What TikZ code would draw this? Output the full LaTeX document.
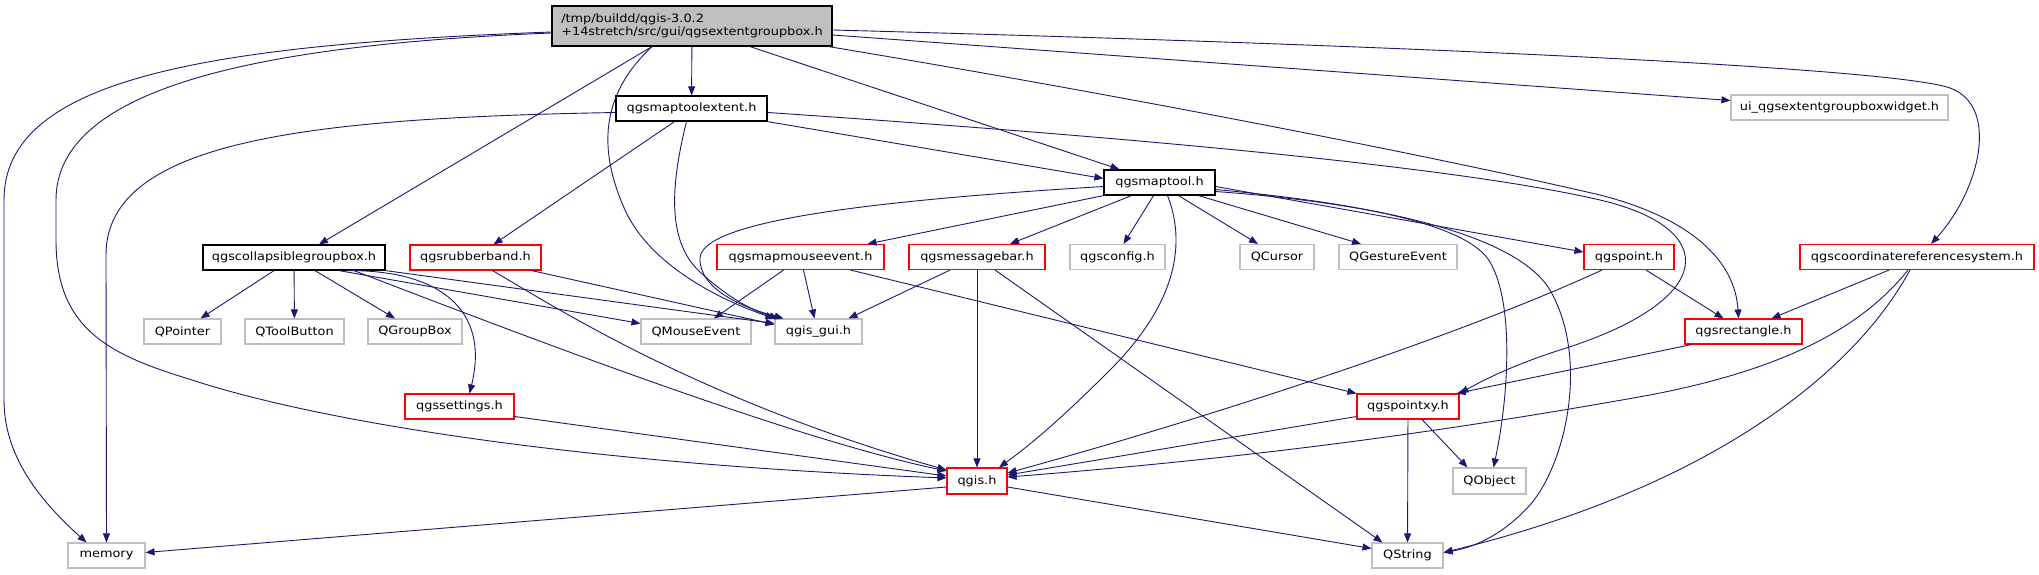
\documentclass[tikz,border=0pt]{standalone}
\usepackage{fontspec}
\usepackage{xcolor}
\usepackage{tikz}
\usetikzlibrary{arrows.meta, positioning}

\newfontfamily\dotfont[FakeStretch=1.12]{DejaVu Sans}
\definecolor{edgeblue}{HTML}{191970}
\definecolor{rootgrey}{HTML}{BFBFBF}
\definecolor{sysgrey}{HTML}{BFBFBF}

\begin{document}
\begin{tikzpicture}[
  x=1pt, y=-1pt,
  file/.style={rectangle, fill=white, inner sep=0pt, minimum height=25pt,
               font=\dotfont\fontsize{11.5}{13.5}\selectfont},
  docfile/.style={file, draw=black, line width=1.2pt},
  redfile/.style={file, draw=red, line width=1.1pt},
  sysfile/.style={file, draw=sysgrey, line width=1.1pt},
  dep/.style={-{Triangle[length=9pt,width=7pt]}, draw=edgeblue, line width=0.9pt}
]
\useasboundingbox (0,0) rectangle (2039,575);

% files, laid out as the include graph
\node[docfile, fill=rootgrey, minimum width=280pt, minimum height=40pt, align=left]
      (root) at (692,26) {/tmp/buildd/qgis-3.0.2\\+14stretch/src/gui/qgsextentgroupbox.h};
\node[docfile, minimum width=151pt] (mte)  at (691.5,108.5) {qgsmaptoolextent.h};
\node[sysfile, minimum width=217pt] (ui)   at (1839.5,107.5) {ui\_qgsextentgroupboxwidget.h};
\node[docfile, minimum width=111pt] (mt)   at (1159.5,182.5) {qgsmaptool.h};
\node[docfile, minimum width=182pt] (cgb)  at (294,257.5) {qgscollapsiblegroupbox.h};
\node[redfile, minimum width=131pt] (rb)   at (475.5,257.5) {qgsrubberband.h};
\node[redfile, minimum width=167pt] (mme)  at (800.5,257) {qgsmapmouseevent.h};
\node[redfile, minimum width=136pt] (mb)   at (977,257) {qgsmessagebar.h};
\node[sysfile, minimum width=95pt]  (cfg)  at (1117.5,257) {qgsconfig.h};
\node[sysfile, minimum width=74pt]  (qcur) at (1277,257) {QCursor};
\node[sysfile, minimum width=118pt] (qge)  at (1398,257) {QGestureEvent};
\node[redfile, minimum width=90pt]  (pt)   at (1629,257) {qgspoint.h};
\node[redfile, minimum width=234pt] (crs)  at (1917,257) {qgscoordinatereferencesystem.h};
\node[sysfile, minimum width=77pt]  (qptr) at (182.5,331.5) {QPointer};
\node[sysfile, minimum width=99pt]  (qtb)  at (294.5,331.5) {QToolButton};
\node[sysfile, minimum width=94pt]  (qgb)  at (415,331.5) {QGroupBox};
\node[sysfile, minimum width=110pt] (qme)  at (696,331.5) {QMouseEvent};
\node[sysfile, minimum width=87pt]  (gui)  at (818.5,331.5) {qgis\_gui.h};
\node[redfile, minimum width=117pt] (rect) at (1743.5,331.5) {qgsrectangle.h};
\node[redfile, minimum width=109pt] (set)  at (459.5,406.5) {qgssettings.h};
\node[redfile, minimum width=102pt] (pxy)  at (1408,406.5) {qgspointxy.h};
\node[redfile, minimum width=60pt, minimum height=26pt] (qgis) at (977,481) {qgis.h};
\node[sysfile, minimum width=73pt, minimum height=26pt] (qobj) at (1489.5,481) {QObject};
\node[sysfile, minimum width=77pt]  (mem)  at (106.5,555.5) {memory};
\node[sysfile, minimum width=71pt]  (qstr) at (1407.5,555.5) {QString};

% qgsextentgroupbox.h
\draw[dep] (root) -- (mte);
\draw[dep] ([yshift=-9pt]root.east) -- ([yshift=7pt]ui.west);
\draw[dep] ([yshift=-4pt]root.east) .. controls (1500,48) and (1900,70) .. (1950,88)
    .. controls (2000,106) and (1980,190) .. ([xshift=14pt]crs.north);
\draw[dep] ([xshift=-4pt]root.south east) .. controls (1150,100) and (1450,160) .. (1600,195)
    .. controls (1690,218) and (1735,260) .. ([xshift=-5pt]rect.north);
\draw[dep] ([xshift=58pt]root.south) -- ([xshift=-40pt]mt.north);
\draw[dep] ([xshift=-40pt]root.south) -- ([xshift=25pt]cgb.north);
\draw[dep] ([xshift=-40pt]root.south) .. controls (600,95) and (598,150) .. (625,210)
    .. controls (650,265) and (720,300) .. (gui.north west);
\draw[dep] ([yshift=-6pt]root.west) .. controls (200,45) and (4,80) .. (4,200) -- (4,400)
    .. controls (4,460) and (45,505) .. ([xshift=-20pt]mem.north);
\draw[dep] ([yshift=-7pt]root.west) .. controls (250,45) and (56,90) .. (56,200) -- (56,240)
    .. controls (56,330) and (110,355) .. (192,380)
    .. controls (330,425) and (600,465) .. ([yshift=3pt]qgis.west);

% qgsmaptoolextent.h
\draw[dep] ([yshift=-4pt]mte.west) .. controls (310,118) and (106,140) .. (106,255) -- (mem.north);
\draw[dep] ([xshift=-17pt]mte.south) -- ([xshift=18pt]rb.north);
\draw[dep] ([xshift=-5pt]mte.south) .. controls (672,180) and (665,240) .. (700,272)
    .. controls (725,295) and (750,310) .. ([xshift=-40pt]gui.north);
\draw[dep] (mte.south east) -- ([yshift=4pt]mt.west);
\draw[dep] ([yshift=-4pt]mte.east) .. controls (1100,135) and (1450,165) .. (1600,200)
    .. controls (1720,228) and (1720,300) .. (1560,350)
    .. controls (1510,366) and (1480,382) .. (pxy.north east);

% qgsmaptool.h
\draw[dep] (mt.south west) -- ([xshift=67pt]mme.north);
\draw[dep] ([xshift=-28pt]mt.south) -- ([xshift=33pt]mb.north);
\draw[dep] ([xshift=-6pt]mt.south) -- ([xshift=6pt]cfg.north);
\draw[dep] ([xshift=19pt]mt.south) -- ([xshift=-19pt]qcur.north);
\draw[dep] ([xshift=39pt]mt.south) -- ([xshift=-37pt]qge.north);
\draw[dep] ([yshift=-4pt]mt.east) -- ([yshift=5pt]pt.west);
\draw[dep] ([yshift=-4pt]mt.west) .. controls (880,200) and (702,220) .. (700,258)
    .. controls (699,290) and (745,308) .. ([xshift=-35pt]gui.north);
\draw[dep] ([xshift=8pt]mt.south) .. controls (1185,240) and (1180,300) .. (1110,370)
    .. controls (1060,420) and (1030,445) .. ([xshift=22pt]qgis.north);
\draw[dep] ([yshift=-7pt]mt.east) .. controls (1380,205) and (1470,228) .. (1490,262)
    .. controls (1515,305) and (1508,400) .. ([xshift=4pt]qobj.north);
\draw[dep] ([yshift=-9pt]mt.east) .. controls (1400,205) and (1520,240) .. (1550,290)
    .. controls (1590,360) and (1565,465) .. (1530,505)
    .. controls (1500,538) and (1470,548) .. ([yshift=3pt]qstr.east);

% qgscollapsiblegroupbox.h and qgsrubberband.h
\draw[dep] ([xshift=-20pt]cgb.south) -- ([xshift=18pt]qptr.north);
\draw[dep] (cgb) -- (qtb);
\draw[dep] ([xshift=21pt]cgb.south) -- ([xshift=-20pt]qgb.north);
\draw[dep] ([xshift=45pt]cgb.south) -- ([yshift=8pt]qme.west);
\draw[dep] (cgb.south east) -- ([yshift=8pt]gui.west);
\draw[dep] ([xshift=54pt]cgb.south) .. controls (440,270) and (490,310) .. ([xshift=10pt]set.north);
\draw[dep] ([xshift=60pt]cgb.south) .. controls (560,350) and (800,440) .. ([yshift=10pt]qgis.west);
\draw[dep] ([xshift=56pt]rb.south) -- ([yshift=7pt]gui.west);
\draw[dep] ([xshift=17pt]rb.south) .. controls (560,310) and (700,400) .. ([yshift=11pt]qgis.west);

% second row
\draw[dep] ([xshift=-17pt]mme.south) -- ([xshift=18pt]qme.north);
\draw[dep] ([xshift=3pt]mme.south) -- ([xshift=-4pt]gui.north);
\draw[dep] ([xshift=50pt]mme.south) -- (pxy.north west);
\draw[dep] ([xshift=-27pt]mb.south) -- ([xshift=30pt]gui.north);
\draw[dep] (mb) -- (qgis);
\draw[dep] ([xshift=18pt]mb.south) -- ([xshift=-25pt]qstr.north);
\draw[dep] ([xshift=-27pt]pt.south) .. controls (1450,340) and (1200,420) .. ([yshift=8pt]qgis.east);
\draw[dep] ([xshift=17pt]pt.south) -- ([xshift=-20pt]rect.north);
\draw[dep] ([xshift=-28pt]crs.south) -- ([xshift=28pt]rect.north);
\draw[dep] ([xshift=-9pt]crs.south) .. controls (1860,330) and (1780,370) .. (1650,395)
    .. controls (1400,440) and (1200,462) .. ([yshift=4pt]qgis.east);
\draw[dep] ([xshift=-7pt]crs.south) .. controls (1850,380) and (1700,490) .. ([yshift=3pt]qstr.east);

% lower rows
\draw[dep] ([xshift=-52pt]rect.south) -- ([xshift=-3pt]pxy.north east);
\draw[dep] ([yshift=-10pt]set.east) -- ([yshift=5pt]qgis.west);
\draw[dep] ([yshift=-10pt]pxy.west) -- ([yshift=6pt]qgis.east);
\draw[dep] ([xshift=14pt]pxy.south) -- ([xshift=-22pt]qobj.north);
\draw[dep] (pxy) -- (qstr);
\draw[dep] ([yshift=-6pt]qgis.west) -- ([yshift=3pt]mem.east);
\draw[dep] ([yshift=-6pt]qgis.east) -- ([yshift=7pt]qstr.west);
\end{tikzpicture}
\end{document}
